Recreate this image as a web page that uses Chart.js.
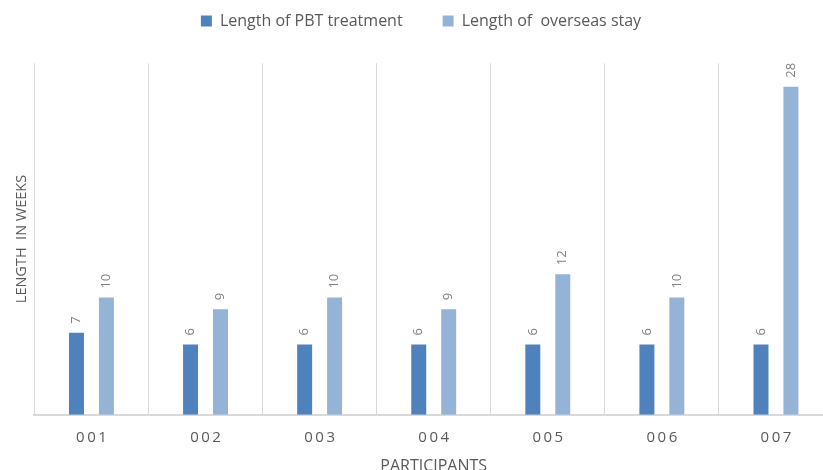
<!DOCTYPE html>
<html>
<head>
<meta charset="utf-8">
<script src="https://cdn.jsdelivr.net/npm/chart.js@4"></script>
<style>
  html, body { margin: 0; padding: 0; background: #fff; overflow: hidden; }
  #wrap { width: 850px; height: 478px; }
</style>
</head>
<body>
<div id="wrap"><canvas id="myChart"></canvas></div>
<script>
// data
var participants = ["001", "002", "003", "004", "005", "006", "007"];
var pbtWeeks = [7, 6, 6, 6, 6, 6, 6];
var overseasWeeks = [10, 9, 10, 9, 12, 10, 28];

var textGrey = '#595959';
var fontFam = "'Open Sans', 'Noto Sans', sans-serif";

// value labels, rotated, above each bar
var barLabels = {
  id: 'barLabels',
  afterDatasetsDraw: function (chart) {
    var ctx = chart.ctx;
    ctx.save();
    ctx.font = '13px ' + fontFam;
    ctx.fillStyle = '#7f7f7f';
    ctx.textAlign = 'left';
    ctx.textBaseline = 'middle';
    chart.data.datasets.forEach(function (ds, i) {
      chart.getDatasetMeta(i).data.forEach(function (bar, j) {
        ctx.save();
        ctx.translate(bar.x, bar.y - 9);
        ctx.rotate(-Math.PI / 2);
        ctx.fillText(String(ds.data[j]), 0, 0);
        ctx.restore();
      });
    });
    ctx.restore();
  }
};

var ctx = document.getElementById('myChart').getContext('2d');
var myChart = new Chart(ctx, {
  type: 'bar',
  data: {
    labels: participants,
    datasets: [
      {
        label: 'Length of PBT treatment',
        backgroundColor: '#4f81bd',
        data: pbtWeeks,
        categoryPercentage: 0.525,
        barPercentage: 0.5
      },
      {
        label: 'Length of  overseas stay',
        backgroundColor: '#95b3d7',
        data: overseasWeeks,
        categoryPercentage: 0.525,
        barPercentage: 0.5
      }
    ]
  },
  options: {
    responsive: true,
    maintainAspectRatio: false,
    animation: false,
    layout: { padding: { left: 9, right: 17, top: -27, bottom: 0 } },
    plugins: {
      legend: {
        position: 'top',
        labels: {
          boxWidth: 11,
          boxHeight: 11,
          padding: 40,
          color: textGrey,
          font: { family: fontFam, size: 16 }
        }
      },
      // empty spacer between legend and plot
      subtitle: {
        display: true,
        text: '',
        weight: 500,
        font: { size: 1 },
        padding: { top: 0, bottom: 23 }
      },
      tooltip: { enabled: false }
    },
    scales: {
      x: {
        grid: { color: '#d9d9d9', lineWidth: 1, drawTicks: false, offset: true },
        border: { color: '#d9d9d9', width: 2 },
        ticks: {
          color: textGrey,
          padding: 14,
          font: { family: fontFam, size: 15 },
          callback: function (v) {
            return participants[v].split('').join('\u2009');
          }
        },
        title: {
          display: true,
          text: 'PARTICIPANTS',
          color: textGrey,
          font: { family: fontFam, size: 16 },
          padding: { top: -4, bottom: 2 }
        }
      },
      y: {
        min: 0,
        max: 30,
        grid: { display: false, drawTicks: false },
        border: { display: false },
        ticks: { display: false },
        title: {
          display: true,
          text: 'LENGTH  IN WEEKS',
          color: textGrey,
          font: { family: fontFam, size: 14.5 },
          padding: 4
        }
      }
    }
  },
  plugins: [barLabels]
});
</script>
</body>
</html>
